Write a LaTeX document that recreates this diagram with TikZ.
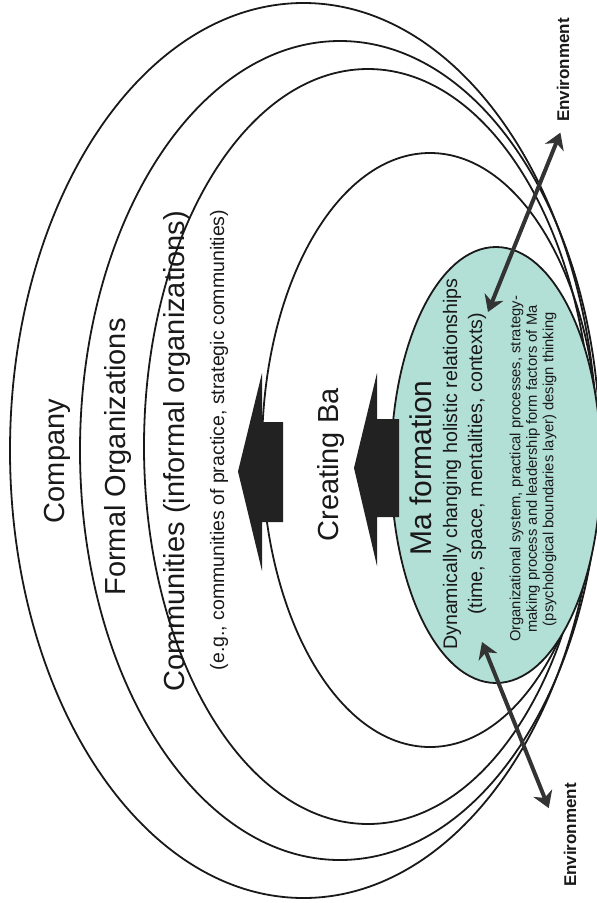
\documentclass[tikz,border=0pt]{standalone}
\usepackage{fontspec}
\setmainfont{Liberation Sans}
\usetikzlibrary{shapes.geometric,arrows.meta}
\definecolor{mateal}{RGB}{178,223,214}
\definecolor{blockgray}{RGB}{34,34,34}
\definecolor{envgray}{RGB}{51,51,51}

\begin{document}
\begin{tikzpicture}[x=1pt,y=-1pt,
    ring/.style={ellipse,draw=black!90,line width=1.8pt,inner sep=0pt},
    bigtext/.style={rotate=90,inner sep=0pt,text=black!90,font=\fontsize{29}{34}\selectfont},
    egtext/.style={rotate=90,inner sep=0pt,text=black!90,font=\fontsize{19.5}{23}\selectfont},
    matext/.style={rotate=90,inner sep=0pt,text=black!90,font=\fontsize{30}{35}\selectfont},
    midtext/.style={rotate=90,inner sep=0pt,text=black!90,font=\fontsize{19.6}{23}\selectfont},
    smalltext/.style={rotate=90,inner sep=0pt,text=black!90,align=center,font=\fontsize{14.75}{16.5}\selectfont},
    envtext/.style={rotate=90,inner sep=4pt,text=black!90,font=\bfseries\fontsize{17}{20}\selectfont},
    blockarrow/.style={fill=blockgray},
    envarrow/.style={{Stealth[length=16pt,width=20pt,inset=5pt]}-{Stealth[length=16pt,width=20pt,inset=5pt]},line width=4pt,draw=envgray}]
    \useasboundingbox (0,0) rectangle (597,903);
    % nested layers
    \node[ring,minimum width=587pt,minimum height=895pt] (company) at (303.5,450.5) {};
    \node[ring,minimum width=520pt,minimum height=819pt] (formal) at (340,450.5) {};
    \node[ring,minimum width=448pt,minimum height=755pt] (communities) at (368,446.5) {};
    \node[ring,minimum width=336pt,minimum height=594pt] (creatingba) at (430,450) {};
    \node[ring,fill=mateal,minimum width=210pt,minimum height=436pt] (maform) at (496,465) {};
    % block arrows
    \fill[blockarrow] (238,471.5) -- ++(24,-98.5) -- ++(0,49) -- ++(21,0) -- ++(0,100) -- ++(-21,0) -- ++(0,49) -- cycle;
    \fill[blockarrow] (354,468) -- ++(23,-95) -- ++(0,46) -- ++(22,0) -- ++(0,98) -- ++(-22,0) -- ++(0,49) -- cycle;
    % labels
    \node[bigtext] (companytext) at (57,461) {Company};
    \node[bigtext] (formaltext) at (118,457) {Formal Organizations};
    \node[bigtext] (commtext) at (177,451) {Communities (informal organizations)};
    \node[egtext] (egtext) at (219,440) {(e.g., communities of practice, strategic communities)};
    \node[bigtext] (batext) at (331,465) {Creating Ba};
    \node[matext] (matitle) at (421,468) {Ma formation};
    \node[midtext] (dyntext) at (452,464) {Dynamically changing holistic relationships};
    \node[midtext] (timetext) at (477,464) {(time, space, mentalities, contexts)};
    \node[smalltext] (factortext) at (533,469) {Organizational system, practical processes, strategy-\\making process and leadership form factors of Ma\\(psychological boundaries layer) design thinking};
    % environment
    \node[envtext] (envtop) at (563,70) {Environment};
    \node[envtext] (envbot) at (570,835) {Environment};
    \coordinate (topin) at (488,312);
    \coordinate (botin) at (482,642);
    \draw[envarrow,shorten >=7pt] (topin) -- (envtop.west);
    \draw[envarrow,shorten >=29pt] (botin) -- (envbot.north);
\end{tikzpicture}
\end{document}
